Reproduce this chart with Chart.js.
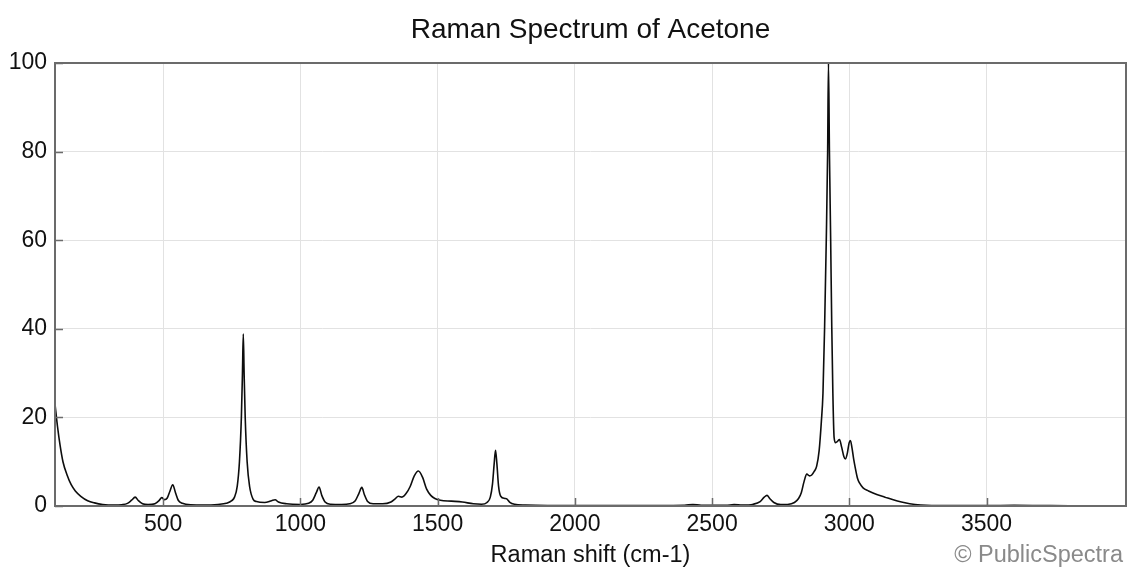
<!DOCTYPE html>
<html>
<head>
<meta charset="utf-8">
<script src="https://cdn.jsdelivr.net/npm/chart.js@4/dist/chart.umd.min.js"></script>
<style>
  html, body { margin: 0; padding: 0; background: #fff; }
  #wrap { width: 1128px; height: 574px; position: relative; }
</style>
</head>
<body>
<div id="wrap"><canvas id="c" width="1128" height="574"></canvas></div>
<script>
const chartTitle = "Raman Spectrum of Acetone";
const xAxisTitle = "Raman shift (cm-1)";
const creditText = "\u00A9 PublicSpectra";

const xTickValues = [500, 1000, 1500, 2000, 2500, 3000, 3500];
const xTickLabels = ["500", "1000", "1500", "2000", "2500", "3000", "3500"];
const yTickValues = [0, 20, 40, 60, 80, 100];
const yTickLabels = ["0", "20", "40", "60", "80", "100"];

const ramanShift = [
  106, 115, 125, 135, 150, 165, 180, 200, 225, 250, 280, 320, 350, 370, 385, 398, 410, 425, 445,
  470, 485, 495, 505, 515, 525, 535, 545, 555, 570, 600, 650, 700, 730, 750, 760, 770, 778, 785,
  789, 792, 795, 799, 806, 815, 828, 840, 870, 895, 908, 920, 950, 1000, 1030, 1045, 1058, 1068,
  1078, 1090, 1110, 1150, 1180, 1200, 1213, 1224, 1233, 1245, 1265, 1300, 1330, 1345, 1357, 1370,
  1385, 1400, 1415, 1430, 1445, 1460, 1475, 1490, 1510, 1550, 1590, 1630, 1660, 1680, 1692, 1700,
  1706, 1711, 1716, 1722, 1730, 1745, 1752, 1762, 1780, 1820, 1900, 2000, 2100, 2200, 2300, 2400,
  2430, 2460, 2550, 2580, 2610, 2650, 2675, 2690, 2700, 2710, 2725, 2750, 2775, 2800, 2815, 2825,
  2835, 2845, 2855, 2863, 2872, 2881, 2890, 2898, 2904, 2910, 2916, 2921, 2924, 2927.5, 2932,
  2936, 2940, 2944.5, 2950, 2957, 2964, 2972, 2980, 2986, 2993, 2999, 3004, 3010, 3016, 3022,
  3030, 3037, 3050, 3070, 3100, 3130, 3160, 3190, 3220, 3260, 3300, 3400, 3500, 3600, 3700, 3800,
  3900, 4008
];
const intensity = [
  23, 18, 13.5, 10, 7, 4.8, 3.4, 2.2, 1.2, 0.7, 0.35, 0.2, 0.3, 0.6, 1.3, 2.0, 1.2, 0.5, 0.3,
  0.5, 1.2, 1.9, 1.4, 1.8, 3.4, 4.8, 3.0, 1.3, 0.6, 0.25, 0.2, 0.35, 0.6, 1.2, 2.0, 4.5, 10, 20,
  30, 38.8, 30, 20, 10, 4.4, 1.5, 1.0, 0.8, 1.2, 1.4, 0.9, 0.5, 0.35, 0.6, 1.3, 3.0, 4.3,
  2.4, 0.9, 0.4, 0.35, 0.5, 1.2, 2.8, 4.2, 2.6, 1.0, 0.5, 0.5, 0.9, 1.6, 2.2, 2.0,
  2.8, 4.4, 6.8, 7.9, 6.5, 3.8, 2.4, 1.7, 1.3, 1.1, 0.9, 0.5, 0.4, 0.8, 2.0, 5.0,
  9.5, 12.6, 9.5, 4.5, 2.2, 1.7, 1.6, 0.9, 0.4, 0.2, 0.1, 0.1, 0.1, 0.1, 0.1, 0.15,
  0.35, 0.15, 0.15, 0.3, 0.2, 0.4, 1.0, 2.0, 2.4, 1.7, 0.8, 0.3, 0.35, 0.8, 1.7, 3.0,
  5.5, 7.2, 6.8, 7.0, 7.8, 9.0, 12.5, 19, 25.5, 40.5, 60, 80, 100, 80, 60,
  40.5, 25.5, 15.5, 14.3, 14.6, 15.0, 13.3, 11.2, 10.6, 12.0, 14.2, 14.8, 13, 10.5, 8.5,
  6.2, 5.2, 4.1, 3.4, 2.6, 2.0, 1.4, 0.9, 0.5, 0.2, 0.1, 0.1, 0.1, 0.15, 0.1, 0.05,
  0.05, 0.05
];

const FONT = "'Liberation Sans', Arial, Helvetica, sans-serif";

const framePlugin = {
  id: 'frame',
  afterDraw(chart) {
    const { ctx, chartArea: a, scales } = chart;
    ctx.save();
    ctx.strokeStyle = '#6b6b6b';
    ctx.lineWidth = 1.5;
    const tl = 8;
    ctx.beginPath();
    xTickValues.forEach(v => {
      const px = Math.round(scales.x.getPixelForValue(v)) + 0.5;
      ctx.moveTo(px, a.bottom);
      ctx.lineTo(px, a.bottom - tl);
    });
    yTickValues.forEach(v => {
      const py = Math.round(scales.y.getPixelForValue(v)) + 0.5;
      ctx.moveTo(a.left, py);
      ctx.lineTo(a.left + tl, py);
    });
    ctx.stroke();
    ctx.lineWidth = 2;
    ctx.strokeRect(a.left, a.top, a.right - a.left, a.bottom - a.top);

    ctx.fillStyle = '#111';
    ctx.font = '28px ' + FONT;
    ctx.textAlign = 'center';
    ctx.textBaseline = 'middle';
    ctx.fillText(chartTitle, (a.left + a.right) / 2, 30);

    ctx.fillStyle = '#8a8a8a';
    ctx.font = '23.5px ' + FONT;
    ctx.textAlign = 'right';
    ctx.fillText(creditText, 1123, 556);
    ctx.restore();
  }
};

new Chart(document.getElementById('c'), {
  type: 'line',
  data: {
    datasets: [{
      data: ramanShift.map((x, i) => ({ x: x, y: intensity[i] })),
      borderColor: '#0d0d0d',
      borderWidth: 1.6,
      pointRadius: 0,
      fill: false,
      cubicInterpolationMode: 'monotone'
    }]
  },
  options: {
    responsive: false,
    animation: false,
    devicePixelRatio: 1,
    layout: { padding: { left: 0, right: 2, top: 63, bottom: 0 } },
    plugins: {
      legend: { display: false },
      tooltip: { enabled: false },
      title: { display: false }
    },
    scales: {
      x: {
        type: 'linear',
        min: 106,
        max: 4008,
        afterBuildTicks(scale) { scale.ticks = xTickValues.map(v => ({ value: v })); },
        afterFit(scale) { scale.height = 68; },
        grid: { color: '#e2e2e2', lineWidth: 1, drawTicks: false },
        border: { display: false },
        ticks: {
          autoSkip: false, maxRotation: 0, padding: 5,
          color: '#111', font: { family: FONT, size: 23 },
          callback: (v) => { const i = xTickValues.indexOf(v); return i >= 0 ? xTickLabels[i] : ''; }
        },
        title: {
          display: true, text: xAxisTitle, color: '#111',
          font: { family: FONT, size: 23.5 },
          padding: { top: 0, bottom: 4 }
        }
      },
      y: {
        min: 0,
        max: 100,
        afterBuildTicks(scale) { scale.ticks = yTickValues.map(v => ({ value: v })); },
        afterFit(scale) { scale.width = 55; },
        grid: { color: '#e2e2e2', lineWidth: 1, drawTicks: false },
        border: { display: false },
        ticks: {
          padding: 8, color: '#111', font: { family: FONT, size: 23 },
          callback: (v) => { const i = yTickValues.indexOf(v); return i >= 0 ? yTickLabels[i] : ''; }
        }
      }
    }
  },
  plugins: [framePlugin]
});
</script>
</body>
</html>
